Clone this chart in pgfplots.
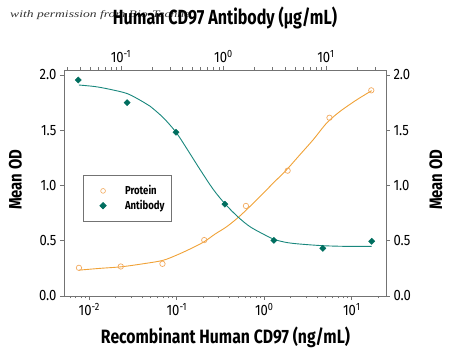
\documentclass[border=0pt]{standalone}
\usepackage{fontspec}
\setmainfont{Fira Sans}[FakeStretch=0.87]
\newfontfamily\labfont{Fira Sans}[FakeStretch=0.83]
\newfontfamily\wmfont{Liberation Serif}
\usepackage{pgfplots}
\pgfplotsset{compat=1.18}
\definecolor{tealM}{RGB}{0,110,95}
\definecolor{tealL}{RGB}{25,135,125}
\definecolor{oraL}{RGB}{240,162,55}
\definecolor{oraM}{RGB}{242,170,95}
\definecolor{axgray}{RGB}{115,115,115}

\pgfplotsset{myax/.style={
  scale only axis, width=322pt, height=226pt, at={(64pt,67pt)}, anchor=south west,
  ymin=0, ymax=2.045,
  ytick={0,0.5,1,1.5,2},
  yticklabel style={/pgf/number format/fixed,/pgf/number format/fixed zerofill,/pgf/number format/precision=1,/pgf/number format/assume math mode=true},
  tick align=outside, major tick length=4pt, minor tick length=2.5pt,
  every tick/.style={axgray, line width=0.6pt},
  axis line style={axgray, line width=0.8pt},
  ticklabel style={font=\fontsize{15}{17}\selectfont},
}}

\begin{document}
\begin{tikzpicture}[x=1pt,y=1pt]
\path[use as bounding box] (0,0) rectangle (450,363);

\begin{axis}[myax, xmode=log, xmin=0.00514, xmax=24.6,
  axis x line*=bottom, axis y line*=left,
  xtick={0.01,0.1,1,10},
  xticklabels={10\textsuperscript{-2},10\textsuperscript{-1},10\textsuperscript{0},10\textsuperscript{1}},
  minor xtick={0.006,0.007,0.008,0.009,0.02,0.03,0.04,0.05,0.06,0.07,0.08,0.09,0.2,0.3,0.4,0.5,0.6,0.7,0.8,0.9,2,3,4,5,6,7,8,9,20},
]
\addplot[oraL, line width=0.9pt, smooth] coordinates {
(0.00762,0.234) (0.01325,0.250) (0.02303,0.264) (0.04003,0.290) (0.0690,0.322)
(0.0997,0.370) (0.1415,0.425) (0.2046,0.490) (0.2733,0.560) (0.3717,0.627)
(0.5278,0.725) (0.8184,0.870) (1.267,1.022) (1.803,1.143) (2.559,1.279)
(3.631,1.415) (5.166,1.565) (7.332,1.670) (11.38,1.775) (16.88,1.858)
};
\addplot[only marks, mark=o, mark size=2.7pt, oraM, mark options={line width=0.7pt}] coordinates {
(0.00762,0.255) (0.0229,0.267) (0.0686,0.291) (0.206,0.506)
(0.617,0.815) (1.85,1.134) (5.56,1.613) (16.7,1.861)
};
\end{axis}

\begin{axis}[myax, xmode=log, xmin=0.0278, xmax=38.5,
  axis x line*=top, axis y line*=right,
  xtick={0.1,1,10},
  xticklabels={10\textsuperscript{-1},10\textsuperscript{0},10\textsuperscript{1}},
  minor xtick={0.03,0.04,0.05,0.06,0.07,0.08,0.09,0.2,0.3,0.4,0.5,0.6,0.7,0.8,0.9,2,3,4,5,6,7,8,9,20,30},
  legend style={at={(rel axis cs:0.058,0.535)}, anchor=north west,
    draw=axgray, line width=0.8pt, fill=white,
    font=\labfont\bfseries\fontsize{11.5}{13}\selectfont,
    inner xsep=5pt, inner ysep=8pt, row sep=0pt, column sep=5pt},
  legend cell align=left,
  legend image code/.code={\path[draw=none,fill=none] (0pt,-5pt) rectangle (30pt,5pt); \draw[mark repeat=2,mark phase=2,#1] plot coordinates {(0pt,0pt) (15pt,0pt) (30pt,0pt)};},
]
\addlegendimage{only marks, mark=o, mark size=2.4pt, oraM, mark options={line width=0.6pt}}
\addlegendentry{Protein}
\addplot[tealL, line width=0.9pt, smooth, forget plot] coordinates {
(0.03892,1.909) (0.05574,1.895) (0.07810,1.870) (0.1162,1.830) (0.1651,1.755)
(0.1918,1.718) (0.2587,1.613) (0.3440,1.482) (0.4375,1.335) (0.5899,1.145)
(0.7955,0.964) (1.041,0.831) (1.394,0.713) (1.814,0.627) (2.445,0.560)
(3.131,0.512) (4.136,0.484) (5.576,0.470) (9.412,0.455) (15.92,0.449) (27.92,0.449)
};
\addplot[only marks, mark=square*, mark size=2.2pt, tealM, mark options={rotate=45}] coordinates {
(0.0383,1.955) (0.1148,1.749) (0.344,1.482) (1.033,0.831)
(3.1,0.504) (9.3,0.431) (27.9,0.495)
};
\addlegendentry{Antibody}
\end{axis}

\node[anchor=base west, inner sep=0pt, font=\wmfont\itshape\fontsize{10}{12}\selectfont, text=black!80] at (10,345) {\resizebox{180pt}{\height}{with permission from Bio-Techne}};
\node[anchor=base, inner sep=0pt, font=\bfseries\fontsize{20.5}{23}\selectfont] at (225,338.7) {\resizebox{224pt}{\height}{Human CD97 Antibody (µg/mL)}};
\node[anchor=base, inner sep=0pt, font=\bfseries\fontsize{19.3}{22}\selectfont] at (225.5,19.7) {\resizebox{249pt}{\height}{Recombinant Human CD97 (ng/mL)}};
\node[anchor=base, inner sep=0pt, rotate=90, font=\bfseries\fontsize{18}{22}\selectfont] at (21.7,183) {\resizebox{60pt}{\height}{Mean OD}};
\node[anchor=base, inner sep=0pt, rotate=90, font=\bfseries\fontsize{18}{22}\selectfont] at (442,183) {\resizebox{60pt}{\height}{Mean OD}};
\end{tikzpicture}
\end{document}
